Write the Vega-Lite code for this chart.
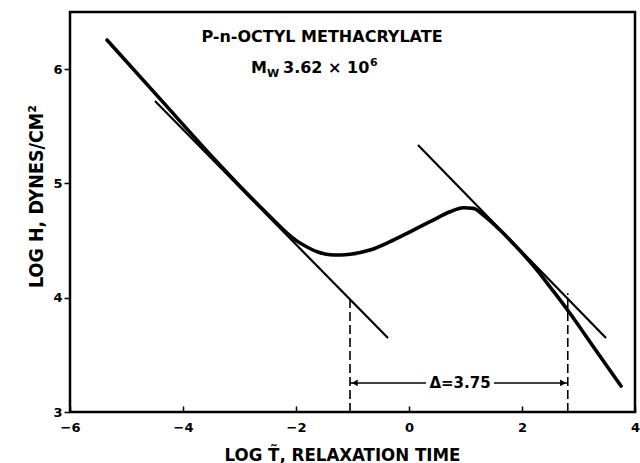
{
  "$schema": "https://vega.github.io/schema/vega-lite/v6.json",
  "width": 565,
  "height": 400,
  "autosize": {"type": "none"},
  "padding": {"left": 70, "top": 12, "right": 5, "bottom": 51},
  "background": "white",
  "config": {
    "view": {"stroke": "black", "strokeWidth": 2.5},
    "axis": {
      "grid": false,
      "domain": false,
      "labelFont": "DejaVu Sans",
      "labelFontWeight": "bold",
      "labelFontSize": 13,
      "labelColor": "black",
      "labelFlush": false,
      "tickColor": "black",
      "tickWidth": 1.5,
      "titleColor": "black",
      "titleFont": "Liberation Sans Narrow, DejaVu Sans Condensed, Liberation Sans",
      "titleFontWeight": "bold"
    }
  },
  "encoding": {
    "x": {"field": "x", "type": "quantitative", "scale": {"domain": [-6, 4], "nice": false, "zero": false},
      "axis": {"values": [-6, -4, -2, 0, 2, 4], "tickSize": -6, "labelPadding": 15,
        "title": "LOG T̃, RELAXATION TIME", "titleFontSize": 18.5, "titleX": 272, "titleY": 42, "titleBaseline": "middle", "titleAlign": "center"}},
    "y": {"field": "y", "type": "quantitative", "scale": {"domain": [3, 6.5], "nice": false, "zero": false},
      "axis": {"values": [3, 4, 5, 6], "tickSize": 6, "labelPadding": 2,
        "title": "LOG H, DYNES/CM²", "titleFontSize": 19.5, "titleX": -34, "titleY": 184, "titleAngle": -90, "titleBaseline": "middle", "titleAlign": "center"}}
  },
  "datasets": {
    "curve": [
      {"x": -5.345, "y": 6.255},
      {"x": -4.37, "y": 5.72},
      {"x": -3.43, "y": 5.205},
      {"x": -3.0, "y": 4.98},
      {"x": -2.5, "y": 4.73},
      {"x": -2.16, "y": 4.566},
      {"x": -1.98, "y": 4.495},
      {"x": -1.805, "y": 4.444},
      {"x": -1.6, "y": 4.398},
      {"x": -1.4, "y": 4.376},
      {"x": -1.2, "y": 4.374},
      {"x": -1.044, "y": 4.38},
      {"x": -0.69, "y": 4.417},
      {"x": -0.336, "y": 4.49},
      {"x": 0.018, "y": 4.577},
      {"x": 0.372, "y": 4.665},
      {"x": 0.726, "y": 4.752},
      {"x": 0.961, "y": 4.787},
      {"x": 1.138, "y": 4.782},
      {"x": 1.315, "y": 4.724},
      {"x": 1.611, "y": 4.592},
      {"x": 1.9, "y": 4.445},
      {"x": 2.265, "y": 4.242},
      {"x": 2.55, "y": 4.06},
      {"x": 2.832, "y": 3.875},
      {"x": 3.3, "y": 3.545},
      {"x": 3.752, "y": 3.227}
    ],
    "tangents": [
      {"line": "a", "x": -4.496, "y": 5.721},
      {"line": "a", "x": -0.372, "y": 3.647},
      {"line": "b", "x": 0.159, "y": 5.336},
      {"line": "b", "x": 3.487, "y": 3.647}
    ],
    "dashed": [
      {"line": "a", "x": -1.044, "y": 3.0},
      {"line": "a", "x": -1.044, "y": 4.02},
      {"line": "b", "x": 2.81, "y": 3.0},
      {"line": "b", "x": 2.81, "y": 4.04}
    ],
    "arrows": [
      {"seg": "a", "x": -1.044, "y": 3.254},
      {"seg": "a", "x": 0.3, "y": 3.254},
      {"seg": "b", "x": 1.504, "y": 3.254},
      {"seg": "b", "x": 2.81, "y": 3.254}
    ],
    "heads": [
      {"dir": "left", "x": -0.96, "y": 3.254},
      {"dir": "right", "x": 2.726, "y": 3.254}
    ],
    "delta": [{"label": "Δ=3.75", "x": 0.903, "y": 3.254}],
    "title1": [{"label": "P-n-OCTYL METHACRYLATE", "x": -1.54, "y": 6.237}],
    "title2": [
      {"label": "M", "x": -2.796, "y": 5.968},
      {"label": "3.62 × 10", "x": -2.23, "y": 5.968}
    ],
    "sub": [{"label": "W", "x": -2.513, "y": 5.935}],
    "sup": [{"label": "6", "x": -0.69, "y": 6.025}]
  },
  "layer": [
    {
      "data": {"name": "tangents"},
      "mark": {"type": "line", "color": "black", "strokeWidth": 2.2},
      "encoding": {"detail": {"field": "line"}}
    },
    {
      "data": {"name": "dashed"},
      "mark": {"type": "line", "color": "black", "strokeWidth": 1.6, "strokeDash": [9, 4]},
      "encoding": {"detail": {"field": "line"}}
    },
    {
      "data": {"name": "arrows"},
      "mark": {"type": "line", "color": "black", "strokeWidth": 1.5},
      "encoding": {"detail": {"field": "seg"}}
    },
    {
      "data": {"name": "heads"},
      "mark": {"type": "point", "filled": true, "color": "black", "size": 45, "opacity": 1},
      "encoding": {
        "shape": {"field": "dir", "type": "nominal", "scale": {"domain": ["left", "right"], "range": ["triangle-left", "triangle-right"]}, "legend": null}
      }
    },
    {
      "data": {"name": "curve"},
      "mark": {"type": "line", "color": "black", "strokeWidth": 3.6, "interpolate": "monotone", "strokeCap": "round"},
      "encoding": {}
    },
    {
      "data": {"name": "delta"},
      "mark": {"type": "text", "font": "DejaVu Sans", "fontWeight": "bold", "fontSize": 15, "align": "center", "baseline": "middle", "color": "black"},
      "encoding": {"text": {"field": "label"}}
    },
    {
      "data": {"name": "title1"},
      "mark": {"type": "text", "font": "DejaVu Sans", "fontWeight": "bold", "fontSize": 16, "align": "center", "baseline": "alphabetic", "color": "black"},
      "encoding": {"text": {"field": "label"}}
    },
    {
      "data": {"name": "title2"},
      "mark": {"type": "text", "font": "DejaVu Sans", "fontWeight": "bold", "fontSize": 16, "align": "left", "baseline": "alphabetic", "color": "black"},
      "encoding": {"text": {"field": "label"}}
    },
    {
      "data": {"name": "sub"},
      "mark": {"type": "text", "font": "DejaVu Sans", "fontWeight": "bold", "fontSize": 11, "align": "left", "baseline": "alphabetic", "color": "black"},
      "encoding": {"text": {"field": "label"}}
    },
    {
      "data": {"name": "sup"},
      "mark": {"type": "text", "font": "DejaVu Sans", "fontWeight": "bold", "fontSize": 11, "align": "left", "baseline": "alphabetic", "color": "black"},
      "encoding": {"text": {"field": "label"}}
    }
  ]
}
